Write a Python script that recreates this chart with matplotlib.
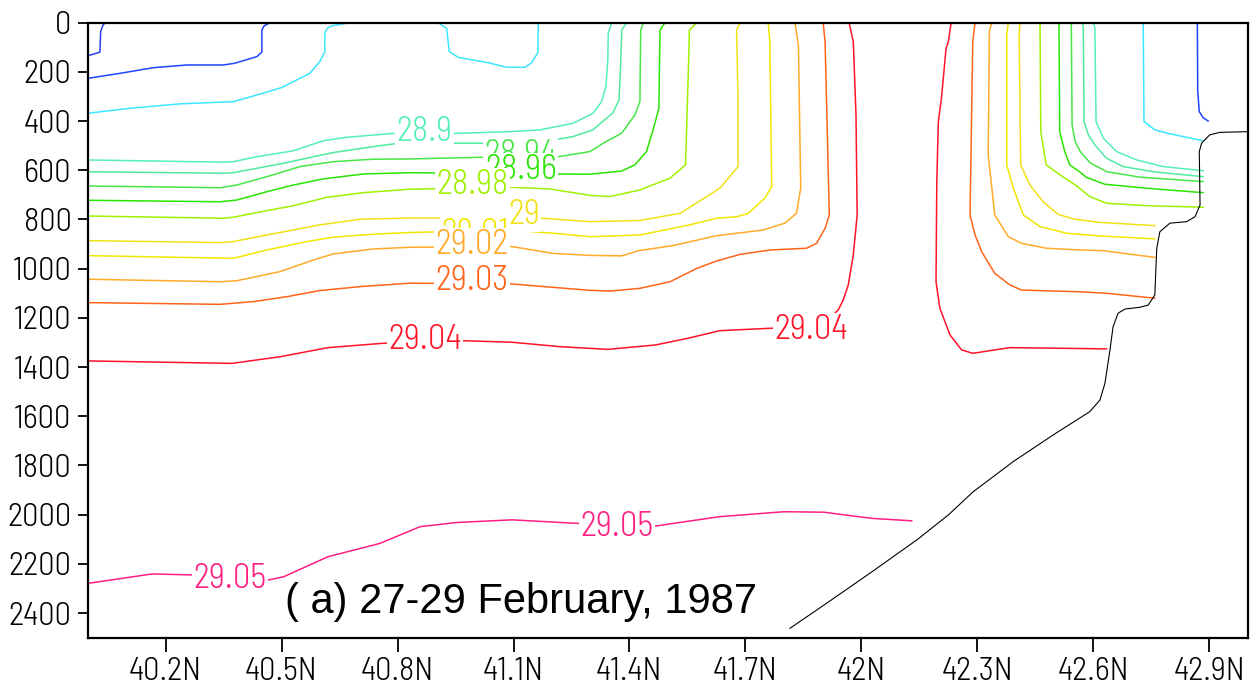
import matplotlib.pyplot as plt
from matplotlib.font_manager import FontProperties

# Density section, 27-29 Feb 1987. Contour lines read off the original
# figure, latitude (deg N) vs depth (m).

# upper (light) water, no labels
lat_a = [40.0, 40.030, 40.032, 40.037, 40.043]
dep_a = [134, 120, 37, 13, 0]
lat_b1 = [40.0, 40.082, 40.168, 40.255, 40.349, 40.379, 40.436, 40.449, 40.449, 40.455, 40.470]
dep_b1 = [226, 206, 183, 172, 172, 165, 138, 120, 30, 13, 0]
lat_b2 = [42.869, 42.870, 42.874, 42.884, 42.897]
dep_b2 = [0, 280, 362, 386, 400]
lat_c1 = [40.0, 40.108, 40.237, 40.375, 40.436, 40.500, 40.573, 40.599, 40.612, 40.612, 40.618, 40.630, 40.677]
dep_c1 = [368, 348, 330, 321, 294, 264, 206, 158, 118, 43, 23, 13, 0]
lat_c2 = [40.905, 40.927, 40.934, 40.957, 41.035, 41.082, 41.130, 41.147, 41.163, 41.164]
dep_c2 = [0, 23, 118, 141, 163, 181, 181, 163, 122, 0]
lat_c3 = [42.729, 42.731, 42.759, 42.793, 42.884]
dep_c3 = [0, 402, 436, 450, 480]

# 28.90
lat_2890a = [40.0, 40.349, 40.375, 40.436, 40.530, 40.608, 40.668, 40.789, 40.949, 41.091, 41.168, 41.254, 41.306, 41.328, 41.339, 41.344, 41.345, 41.354]
dep_2890a = [558, 567, 565, 545, 521, 480, 466, 450, 450, 443, 436, 409, 368, 321, 260, 152, 43, 0]
lat_2890b = [42.601, 42.604, 42.607, 42.626, 42.660, 42.712, 42.781, 42.884]
dep_2890b = [0, 23, 402, 470, 524, 558, 585, 602]
# 28.92
lat_2892a = [40.0, 40.349, 40.375, 40.436, 40.513, 40.582, 40.634, 40.737, 40.789, 40.949, 41.021, 41.215, 41.254, 41.305, 41.357, 41.373, 41.377, 41.380, 41.393]
dep_2892a = [606, 612, 610, 592, 569, 545, 528, 504, 493, 490, 490, 474, 463, 436, 367, 314, 179, 30, 0]
lat_2892b = [42.572, 42.574, 42.576, 42.587, 42.604, 42.634, 42.677, 42.755, 42.884]
dep_2892b = [0, 23, 402, 456, 497, 551, 585, 606, 626]
# 28.94
lat_2894a = [40.0, 40.341, 40.384, 40.462, 40.548, 40.634, 40.737, 40.832, 41.021, 41.215, 41.298, 41.332, 41.380, 41.414, 41.427, 41.429, 41.436]
dep_2894a = [664, 671, 660, 626, 585, 565, 555, 554, 547, 545, 524, 490, 449, 375, 321, 30, 0]
lat_2894b = [42.543, 42.545, 42.553, 42.566, 42.592, 42.635, 42.721, 42.884]
dep_2894b = [0, 416, 484, 524, 570, 606, 628, 646]
# 28.96
lat_2896a = [40.0, 40.341, 40.384, 40.462, 40.531, 40.608, 40.712, 40.832, 41.298, 41.380, 41.414, 41.444, 41.461, 41.476, 41.479, 41.492]
dep_2896a = [722, 728, 721, 687, 660, 635, 615, 610, 616, 603, 578, 524, 436, 348, 30, 0]
lat_2896b = [42.511, 42.513, 42.526, 42.539, 42.565, 42.582, 42.630, 42.738, 42.884]
dep_2896b = [0, 443, 524, 578, 607, 629, 657, 673, 691]
# 28.98
lat_2898a = [40.0, 40.349, 40.375, 40.462, 40.531, 40.617, 40.712, 40.832, 41.095, 41.194, 41.298, 41.349, 41.427, 41.505, 41.545, 41.554, 41.555, 41.574]
dep_2898a = [786, 795, 791, 764, 744, 710, 691, 677, 669, 676, 702, 707, 680, 632, 578, 104, 30, 0]
lat_2898b = [42.462, 42.464, 42.478, 42.514, 42.557, 42.591, 42.634, 42.738, 42.884]
dep_2898b = [0, 443, 578, 619, 664, 707, 734, 744, 750]
# 29.00
lat_2900a = [40.0, 40.341, 40.375, 40.462, 40.599, 40.703, 40.832, 41.177, 41.298, 41.427, 41.531, 41.634, 41.681, 41.681, 41.677, 41.686]
dep_2900a = [886, 894, 890, 863, 822, 799, 794, 795, 809, 804, 775, 673, 585, 314, 30, 0]
lat_2900b = [42.410, 42.408, 42.412, 42.436, 42.470, 42.509, 42.548, 42.617, 42.759]
dep_2900b = [0, 50, 578, 660, 728, 779, 798, 812, 825]
# 29.01
lat_2901a = [40.0, 40.375, 40.462, 40.565, 40.634, 40.737, 40.832, 41.095, 41.203, 41.298, 41.427, 41.556, 41.625, 41.677, 41.707, 41.750, 41.768, 41.763, 41.759]
dep_2901a = [947, 958, 924, 890, 872, 860, 853, 843, 856, 870, 863, 822, 795, 789, 775, 714, 666, 77, 0]
lat_2901b = [42.380, 42.376, 42.376, 42.393, 42.419, 42.462, 42.531, 42.617, 42.759]
dep_2901b = [0, 50, 578, 673, 782, 829, 856, 867, 879]
# 29.02
lat_2902a = [40.0, 40.341, 40.384, 40.496, 40.582, 40.634, 40.737, 40.832, 41.095, 41.203, 41.298, 41.380, 41.423, 41.513, 41.625, 41.746, 41.802, 41.832, 41.843, 41.837, 41.828]
dep_2902a = [1043, 1053, 1049, 1012, 965, 940, 920, 913, 910, 938, 946, 948, 927, 906, 866, 843, 815, 775, 673, 91, 0]
lat_2902b = [42.337, 42.331, 42.328, 42.345, 42.380, 42.414, 42.479, 42.565, 42.625, 42.759]
dep_2902b = [0, 37, 538, 782, 870, 897, 917, 924, 927, 954]
# 29.03
lat_2903a = [40.0, 40.341, 40.427, 40.513, 40.599, 40.703, 40.832, 41.095, 41.203, 41.298, 41.349, 41.427, 41.505, 41.574, 41.625, 41.686, 41.764, 41.858, 41.884, 41.906, 41.917, 41.906, 41.901]
dep_2903a = [1138, 1145, 1134, 1114, 1089, 1073, 1059, 1062, 1076, 1088, 1091, 1080, 1053, 999, 969, 942, 924, 917, 897, 836, 782, 77, 0]
lat_2903b = [42.294, 42.288, 42.281, 42.294, 42.311, 42.345, 42.384, 42.414, 42.565, 42.634, 42.759]
dep_2903b = [0, 77, 782, 863, 931, 1019, 1066, 1087, 1094, 1100, 1120]
# 29.04
lat_2904a = [40.0, 40.372, 40.496, 40.620, 40.765, 40.972, 41.096, 41.220, 41.344, 41.468, 41.551, 41.634, 41.768, 41.853, 41.918, 41.940, 41.953, 41.966, 41.979, 41.989, 41.986, 41.979, 41.968]
dep_2904a = [1375, 1385, 1358, 1321, 1303, 1293, 1299, 1317, 1328, 1310, 1283, 1252, 1242, 1237, 1200, 1168, 1127, 1066, 944, 782, 375, 77, 0]
lat_2904b = [42.232, 42.225, 42.219, 42.207, 42.199, 42.195, 42.193, 42.203, 42.229, 42.259, 42.288, 42.384, 42.634]
dep_2904b = [0, 77, 104, 308, 403, 647, 1053, 1161, 1269, 1330, 1344, 1321, 1326]
# 29.05
lat_2905 = [40.0, 40.165, 40.269, 40.465, 40.506, 40.620, 40.754, 40.858, 40.951, 41.096, 41.261, 41.468, 41.634, 41.800, 41.903, 42.027, 42.130]
dep_2905 = [2279, 2241, 2245, 2266, 2252, 2171, 2117, 2049, 2032, 2021, 2035, 2046, 2008, 1988, 1990, 2015, 2025]

# bottom topography
lat_bot = [41.815, 41.910, 42.022, 42.143, 42.225, 42.289, 42.393, 42.496, 42.591, 42.617, 42.630, 42.643, 42.651, 42.664, 42.682, 42.720, 42.742, 42.759, 42.764, 42.772, 42.798, 42.841, 42.863, 42.876, 42.874, 42.880, 42.901, 42.927, 43.0]
dep_bot = [2462, 2360, 2238, 2103, 2001, 1907, 1784, 1676, 1581, 1534, 1466, 1330, 1236, 1181, 1164, 1157, 1148, 1107, 917, 850, 815, 809, 789, 741, 524, 490, 456, 446, 443]

# contour labels: text, lat, depth
lab_text = ['28.9', '28.94', '28.96', '28.98', '29.01', '29', '29.02', '29.03', '29.04', '29.04', '29.05', '29.05']
lab_lat = [40.869, 41.117, 41.119, 40.993, 41.000, 41.127, 40.993, 40.993, 40.871, 41.869, 41.367, 40.367]
lab_dep = [444, 538, 599, 660, 858, 782, 904, 1050, 1290, 1249, 2050, 2261]

xticks = [40.2, 40.5, 40.8, 41.1, 41.4, 41.7, 42.0, 42.3, 42.6, 42.9]
xlabels = ['40.2N', '40.5N', '40.8N', '41.1N', '41.4N', '41.7N', '42N', '42.3N', '42.6N', '42.9N']
yticks = list(range(0, 2401, 200))

colors = {
    'a': '#2a3cf0', 'b': '#1e46ff', 'c': '#3ce6ff',
    '28.9': '#55f0b4', '28.92': '#50eba0', '28.94': '#46e646',
    '28.96': '#28e600', '28.98': '#a0f000', '29': '#f0e114',
    '29.01': '#f0e600', '29.02': '#ffaa28', '29.03': '#ff6419',
    '29.04': '#ff1428', '29.05': '#ff1e82',
}

lines = [
    (lat_a, dep_a, 'a'), (lat_b1, dep_b1, 'b'), (lat_b2, dep_b2, 'b'),
    (lat_c1, dep_c1, 'c'), (lat_c2, dep_c2, 'c'), (lat_c3, dep_c3, 'c'),
    (lat_2890a, dep_2890a, '28.9'), (lat_2890b, dep_2890b, '28.9'),
    (lat_2892a, dep_2892a, '28.92'), (lat_2892b, dep_2892b, '28.92'),
    (lat_2894a, dep_2894a, '28.94'), (lat_2894b, dep_2894b, '28.94'),
    (lat_2896a, dep_2896a, '28.96'), (lat_2896b, dep_2896b, '28.96'),
    (lat_2898a, dep_2898a, '28.98'), (lat_2898b, dep_2898b, '28.98'),
    (lat_2900a, dep_2900a, '29'), (lat_2900b, dep_2900b, '29'),
    (lat_2901a, dep_2901a, '29.01'), (lat_2901b, dep_2901b, '29.01'),
    (lat_2902a, dep_2902a, '29.02'), (lat_2902b, dep_2902b, '29.02'),
    (lat_2903a, dep_2903a, '29.03'), (lat_2903b, dep_2903b, '29.03'),
    (lat_2904a, dep_2904a, '29.04'), (lat_2904b, dep_2904b, '29.04'),
    (lat_2905, dep_2905, '29.05'),
]

# thin narrow face, close to the plotting package's stroke font
face = ['Barlow Semi Condensed', 'Barlow Condensed', 'DejaVu Sans']
lab_font = FontProperties(family=face, weight=300, size=25)
tick_font = FontProperties(family=face, weight=300, size=23.5)

fig = plt.figure(figsize=(12.54, 6.89), dpi=100)
ax = fig.add_axes([0.0704, 0.0745, 0.9248, 0.8926])

for lat, dep, key in lines:
    ax.plot(lat, dep, color=colors[key], lw=1.1, zorder=2)
ax.plot(lat_bot, dep_bot, color='black', lw=0.8, zorder=2)

# labels sit on white boxes, later ones hide earlier ones
for i, (t, x, y) in enumerate(zip(lab_text, lab_lat, lab_dep)):
    ax.text(x, y, t, color=colors[t], fontproperties=lab_font,
            ha='center', va='center', zorder=3 + i * 0.01,
            bbox=dict(facecolor='white', edgecolor='none', pad=1))

ax.text(0.170, 0.040, '( a) 27-29 February, 1987', transform=ax.transAxes,
        fontsize=30, family='Liberation Sans', va='baseline', zorder=5)

ax.set_xlim(40.0, 43.0)
ax.set_ylim(2500, 0)
ax.set_xticks(xticks)
ax.set_xticklabels(xlabels)
ax.set_yticks(yticks)
ax.tick_params(axis='x', length=10, width=1.3, pad=4)
ax.tick_params(axis='y', length=7, width=1.3, pad=5)
for lb in ax.get_xticklabels() + ax.get_yticklabels():
    lb.set_fontproperties(tick_font)
for s in ax.spines.values():
    s.set_linewidth(1.6)

plt.savefig('out.png', dpi=100)
